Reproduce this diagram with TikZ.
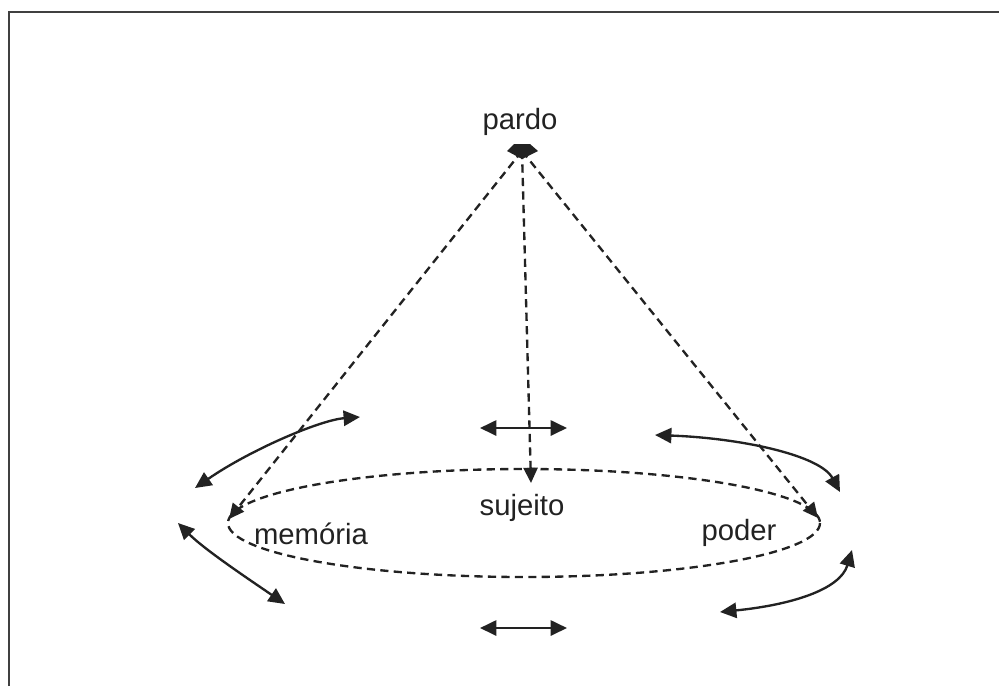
\documentclass[tikz,border=0pt]{standalone}
\usepackage{fontspec}
\setmainfont{Liberation Sans}
\usetikzlibrary{arrows.meta}
\definecolor{ink}{HTML}{222222}
\definecolor{frame}{HTML}{404040}
\begin{document}
\begin{tikzpicture}[x=0.03cm,y=-0.03cm,
  lbl/.style={font=\fontsize{25}{29}\selectfont, text=ink, inner sep=0pt},
  dasharrow/.style={draw=ink, line width=2pt, dash pattern=on 7pt off 4.5pt, -{Triangle[length=13pt,width=12pt]}},
  twoway/.style={draw=ink, line width=2pt, {Triangle[length=14pt,width=13pt]}-{Triangle[length=14pt,width=13pt]}},
  ring/.style={draw=ink, line width=2pt, dash pattern=on 7pt off 4.5pt}]
\useasboundingbox (0,0) rectangle (999,686);
% frame
\draw[frame, line width=2pt] (9,686) -- (9,12) -- (999,12);
% labels
\node[lbl] (pardo) at (520,122) {pardo};
\node[lbl] (sujeito) at (522,508) {sujeito};
\node[lbl] (memoria) at (311,534) {memória};
\node[lbl] (poder) at (739,533) {poder};
% apex
\coordinate (apex) at (522,151);
\fill[ink] (507,151) -- (514,144) -- (530,144) -- (538,151) -- (522,159) -- cycle;
% ellipse
\draw[ring] (524,523) ellipse [x radius=296, y radius=54];
% dashed arrows
\coordinate (leftend) at (229,519);
\coordinate (midend) at (531,483);
\coordinate (rightend) at (818,518);
\draw[dasharrow] (apex) -- (leftend);
\draw[dasharrow] (apex) -- (midend);
\draw[dasharrow] (apex) -- (rightend);
% two-way arrows
\coordinate (ula) at (195,488); \coordinate (ulb) at (360,417);
\coordinate (lla) at (178,523); \coordinate (llb) at (285,604);
\coordinate (tma) at (480,428); \coordinate (tmb) at (567,428);
\coordinate (bma) at (480,628); \coordinate (bmb) at (567,628);
\coordinate (ura) at (655,435); \coordinate (urb) at (840,492);
\coordinate (lra) at (720,612); \coordinate (lrb) at (852,550);
\draw[twoway] (ula) .. controls (250,450) and (320,420) .. (ulb);
\draw[twoway] (lla) .. controls (205,550) and (250,580) .. (llb);
\draw[twoway] (tma) -- (tmb);
\draw[twoway] (bma) -- (bmb);
\draw[twoway] (ura) .. controls (740,438) and (820,455) .. (urb);
\draw[twoway] (lra) .. controls (790,605) and (840,590) .. (lrb);
\end{tikzpicture}
\end{document}
